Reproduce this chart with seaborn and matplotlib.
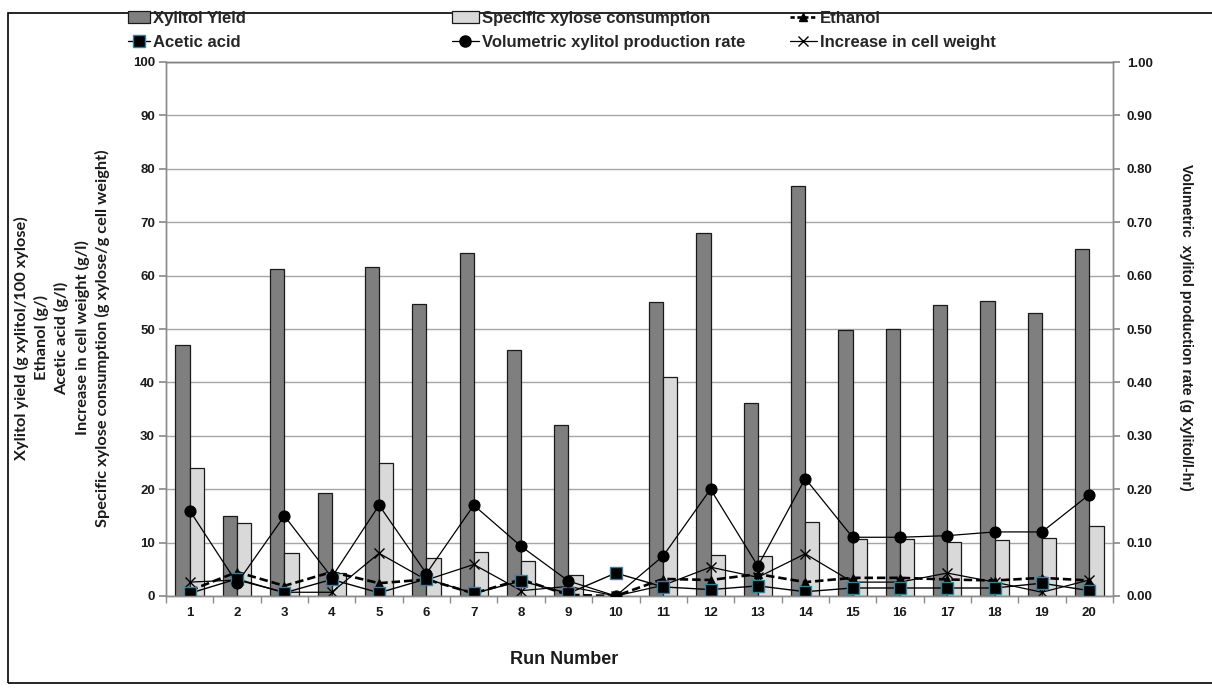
import numpy as np
import pandas as pd
import matplotlib
matplotlib.use("Agg")
import matplotlib.pyplot as plt
import seaborn as sns
from matplotlib.lines import Line2D
from matplotlib.patches import Patch, Rectangle
from matplotlib.font_manager import FontProperties

# ---------------- data ----------------
runs = list(range(1, 21))
xylitol_yield = [47.0, 15.0, 61.3, 19.2, 61.6, 54.7, 64.2, 46.0, 32.0, 0.0,
                 55.0, 68.0, 36.1, 76.8, 49.8, 50.0, 54.5, 55.2, 53.0, 65.0]
specific_xylose = [23.9, 13.7, 8.0, 4.4, 25.0, 7.2, 8.3, 6.5, 4.0, 0.0,
                   41.0, 7.7, 7.4, 13.8, 10.7, 10.6, 10.1, 10.4, 10.9, 13.1]
ethanol = [1.0, 4.5, 1.9, 4.5, 2.4, 3.1, 0.5, 3.1, 0.2, 0.0,
           3.2, 3.0, 4.1, 2.6, 3.4, 3.4, 3.1, 2.9, 3.4, 2.9]
acetic_acid = [0.5, 3.2, 0.6, 3.1, 0.6, 3.2, 0.5, 2.8, 0.5, 4.3,
               1.7, 1.2, 1.9, 0.8, 1.5, 1.5, 1.5, 1.5, 2.4, 1.0]
vol_rate = [0.16, 0.024, 0.15, 0.035, 0.17, 0.042, 0.17, 0.093, 0.028, 0.0,
            0.075, 0.20, 0.056, 0.22, 0.11, 0.11, 0.113, 0.12, 0.12, 0.19]
cell_weight = [2.6, 3.0, 0.7, 0.7, 8.0, 3.0, 5.9, 1.0, 1.8, 0.0,
               2.0, 5.4, 3.5, 7.9, 2.6, 2.6, 4.3, 2.6, 0.7, 3.0]

bar_names = ["Xylitol Yield", "Specific xylose consumption"]
left_ticks = list(range(0, 101, 10))
right_ticks = [i / 10 for i in range(0, 11)]

left_label = ("Xylitol yield (g xylitol/100 xylose)\nEthanol (g/)\nAcetic acid (g/l)\n"
              "Increase in cell weight (g/l)\nSpecific xylose consumption (g xylose/g cell weight)")
right_label = "Volumetric  xylitol production rate (g Xylitol/l-hr)"

# ---------------- style ----------------
sns.set_theme(style="white")
plt.rcParams["font.family"] = ["Liberation Sans", "DejaVu Sans"]

DARK = "#7f7f7f"
LIGHT = "#d9d9d9"
TEAL = "#31849b"
GRID = "#a6a6a6"
SPINE = "#8c8c8c"

W, H = 1212, 691
fig = plt.figure(figsize=(W / 100, H / 100), dpi=100)
ax = fig.add_axes([166 / W, 1 - 596 / H, (1113 - 166) / W, (596 - 62) / H])

df = pd.DataFrame({
    "Run": runs * 2,
    "value": xylitol_yield + specific_xylose,
    "series": [bar_names[0]] * 20 + [bar_names[1]] * 20,
})
sns.barplot(data=df, x="Run", y="value", hue="series", hue_order=bar_names,
            palette=[DARK, LIGHT], width=0.6, edgecolor="#1a1a1a", linewidth=0.9,
            saturation=1, legend=False, ax=ax, zorder=2)

idx = np.arange(len(runs))
sns.lineplot(x=idx, y=ethanol, ax=ax, color="black", lw=1.9,
             linestyle=(0, (3.2, 1.5)), marker="^", markersize=6,
             markeredgecolor="black", markerfacecolor="black", legend=False, zorder=3)
sns.lineplot(x=idx, y=cell_weight, ax=ax, color="black", lw=0.9,
             marker="x", markersize=7, markeredgecolor="black", markeredgewidth=1.0,
             legend=False, zorder=3)
sns.lineplot(x=idx, y=acetic_acid, ax=ax, color="black", lw=1.0,
             marker="s", markersize=8, markeredgecolor=TEAL, markeredgewidth=1.0,
             markerfacecolor="black", legend=False, zorder=4)

ax2 = ax.twinx()
sns.lineplot(x=idx, y=vol_rate, ax=ax2, color="black", lw=0.9,
             marker="o", markersize=8, markeredgecolor="black",
             markerfacecolor="black", legend=False, zorder=5)

# ---------------- axes ----------------
ax.set_xlim(-0.5, len(runs) - 0.5)
ax.set_ylim(0, 100)
ax2.set_ylim(0, 1.0)
ax.set_yticks(left_ticks)
ax.set_yticklabels([str(t) for t in left_ticks])
ax2.set_yticks(right_ticks)
ax2.set_yticklabels([f"{t:.2f}" for t in right_ticks])
ax.set_xticks(idx)
ax.set_xticklabels([str(r) for r in runs])
ax.set_xticks(np.arange(-0.5, len(runs), 1.0), minor=True)
ax.set_xlabel("")
ax.set_ylabel("")
ax2.set_ylabel("")

ax.yaxis.grid(True, color=GRID, lw=1.0, zorder=0)
ax.xaxis.grid(False)
ax.set_axisbelow(True)

for a in (ax, ax2):
    for s in a.spines.values():
        s.set_color(SPINE)
        s.set_linewidth(1.0)
    a.spines["top"].set_visible(True)
    a.spines["top"].set_color("#808080")

ax.tick_params(axis="x", which="major", length=0, pad=8, labelsize=9.5)
ax.tick_params(axis="x", which="minor", length=5, color=SPINE, direction="out", bottom=True)
ax.tick_params(axis="y", length=5, color=SPINE, direction="out", left=True, labelsize=9.5, pad=3)
ax2.tick_params(axis="y", length=5, color=SPINE, direction="out", right=True, labelsize=9.5, pad=5)
for lab in ax.get_xticklabels() + ax.get_yticklabels() + ax2.get_yticklabels():
    lab.set_fontweight("bold")
    lab.set_color("#1a1a1a")

# ---------------- labels ----------------
fig.text(62 / W, 1 - 338 / H, left_label, rotation=90, ha="center", va="center",
         multialignment="center", fontsize=11.8, fontweight="bold", family=["Lato", "DejaVu Sans"],
         linespacing=1.43, color="#1a1a1a")
fig.text(1186 / W, 1 - 327 / H, right_label, rotation=270, ha="center", va="center",
         fontsize=10.3, fontweight="bold", color="#1a1a1a")
fig.text(564 / W, 1 - 660 / H, "Run Number", ha="center", va="center",
         fontsize=13, fontweight="bold", color="#1a1a1a")

# ---------------- legend ----------------
leg_font = FontProperties(family=["Liberation Sans", "DejaVu Sans"], weight="bold", size=12)
h_yield = Patch(facecolor=DARK, edgecolor="#1a1a1a", lw=0.9)
h_spec = Patch(facecolor=LIGHT, edgecolor="#1a1a1a", lw=0.9)
h_eth = Line2D([], [], color="black", lw=1.9, linestyle=(0, (1.6, 1.0)), marker="^", markersize=6)
h_ace = Line2D([], [], color="black", lw=1.0, marker="s", markersize=8,
               markerfacecolor="black", markeredgecolor=TEAL)
h_vol = Line2D([], [], color="black", lw=0.9, marker="o", markersize=8)
h_cell = Line2D([], [], color="black", lw=0.9, marker="x", markersize=7)

columns = [
    ([h_yield, h_ace], ["Xylitol Yield", "Acetic acid"], 128, 1.3),
    ([h_spec, h_vol], ["Specific xylose consumption", "Volumetric xylitol production rate"], 452, 1.6),
    ([h_eth, h_cell], ["Ethanol", "Increase in cell weight"], 790, 1.6),
]
for handles, labels, x0, hl in columns:
    fig.legend(handles, labels, loc="upper left", bbox_to_anchor=(x0 / W, 1 - 11 / H),
               frameon=False, prop=leg_font, handlelength=hl, handletextpad=0.2,
               labelspacing=0.55, borderpad=0, borderaxespad=0)

# outer chart-area frame
fig.patches.append(Rectangle((8 / W, 1 - 683 / H), (W + 10 - 8) / W, (683 - 13) / H,
                             transform=fig.transFigure, fill=False, edgecolor="black",
                             lw=1.2, zorder=0))

fig.savefig("out.png", dpi=100)
